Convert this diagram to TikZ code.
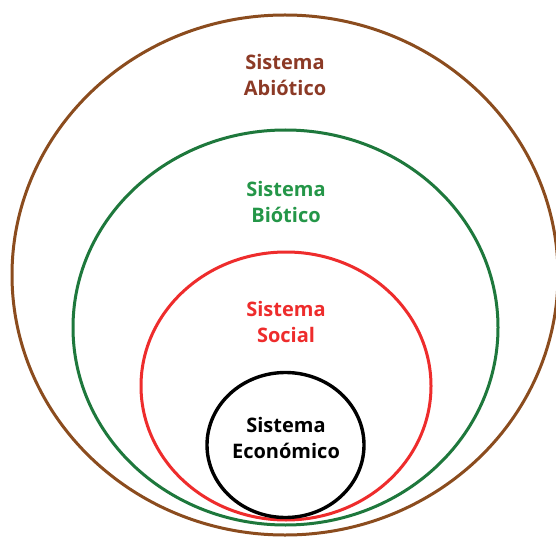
\documentclass[tikz,border=0pt]{standalone}
\usepackage{fontspec}
\setmainfont{Open Sans}
\usetikzlibrary{shapes.geometric}
\definecolor{abioline}{RGB}{139,76,30}
\definecolor{abiotext}{RGB}{140,58,38}
\definecolor{bioline}{RGB}{30,120,60}
\definecolor{biotext}{RGB}{36,150,72}
\definecolor{socline}{RGB}{238,44,44}
\begin{document}
\begin{tikzpicture}[x=1pt,y=-1pt,
  ring/.style={draw,line width=3pt,ellipse,inner sep=0pt},
  label/.style={font=\fontsize{20}{26.5}\selectfont\bfseries,align=center,inner sep=0pt}]
\useasboundingbox[fill=white] (0,0) rectangle (556,537);
% nested systems, outermost first
\node[ring,abioline,minimum width=546pt,minimum height=520pt] (abio) at (285,275) {};
\node[ring,bioline,minimum width=425pt,minimum height=395pt] (bio) at (285.5,327.5) {};
\node[ring,socline,minimum width=290pt,minimum height=268pt] (soc) at (286,386) {};
\node[ring,black,line width=3.4pt,minimum width=157pt,minimum height=145pt] (eco) at (285.5,445) {};
% labels
\node[label,abiotext] (tabio) at (285,75) {Sistema\\Abiótico};
\node[label,biotext] (tbio) at (286,202) {Sistema\\Biótico};
\node[label,socline] (tsoc) at (286,322) {Sistema\\Social};
\node[label,black] (teco) at (286,438) {Sistema\\Económico};
\end{tikzpicture}
\end{document}
